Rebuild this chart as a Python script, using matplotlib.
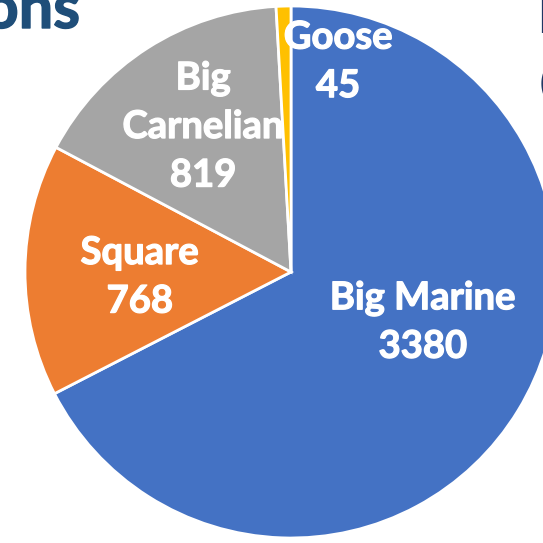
import matplotlib
matplotlib.use("Agg")
import matplotlib.pyplot as plt
import matplotlib.patheffects as pe

categories = ["Big Marine", "Square", "Big\nCarnelian", "Goose"]
values = [3380, 768, 819, 45]
colors = ["#4472C4", "#ED7D31", "#A5A5A5", "#FFC000"]
label_pos = [(0.496, -0.19), (-0.568, -0.02), (-0.33, 0.545), (0.177, 0.79)]

W = H = 543
fig = plt.figure(figsize=(W / 100, H / 100), dpi=100)
cx, cy, r = 291, 272, 266
ax = fig.add_axes([(cx - r) / W, (H - cy - r) / H, 2 * r / W, 2 * r / H])

wedges, _ = ax.pie(values, colors=colors, startangle=90, counterclock=False,
                   radius=1, wedgeprops=dict(edgecolor="white", linewidth=2.0))
for w in wedges:
    w.set_clip_on(False)
ax.set_xlim(-1, 1)
ax.set_ylim(-1, 1)
ax.set_aspect("equal")
ax.axis("off")

font = "Lato"
white_stroke = [pe.withStroke(linewidth=0.9, foreground="white")]
for cat, val, (x, y) in zip(categories, values, label_pos):
    ax.text(x, y, f"{cat}\n{val}", ha="center", va="center", color="white",
            fontsize=27.5, fontweight="bold", family=font, linespacing=1.52,
            multialignment="center", path_effects=white_stroke)

blue_stroke = [pe.withStroke(linewidth=1.0, foreground="#1F4E79")]
fig.text(80 / W, 1 - 28 / H, "ons", ha="right", va="baseline", color="#1F4E79",
         fontsize=44, fontweight="bold", family=font, path_effects=blue_stroke)
fig.text(536 / W, 1 - 33 / H, "I", ha="left", va="baseline", color="#203864",
         fontsize=44, fontweight="bold", family=font)
fig.text(540 / W, 1 - 95 / H, "(", ha="left", va="baseline", color="#203864",
         fontsize=26, fontweight="bold", family=font)

fig.savefig("out.png", dpi=100)
